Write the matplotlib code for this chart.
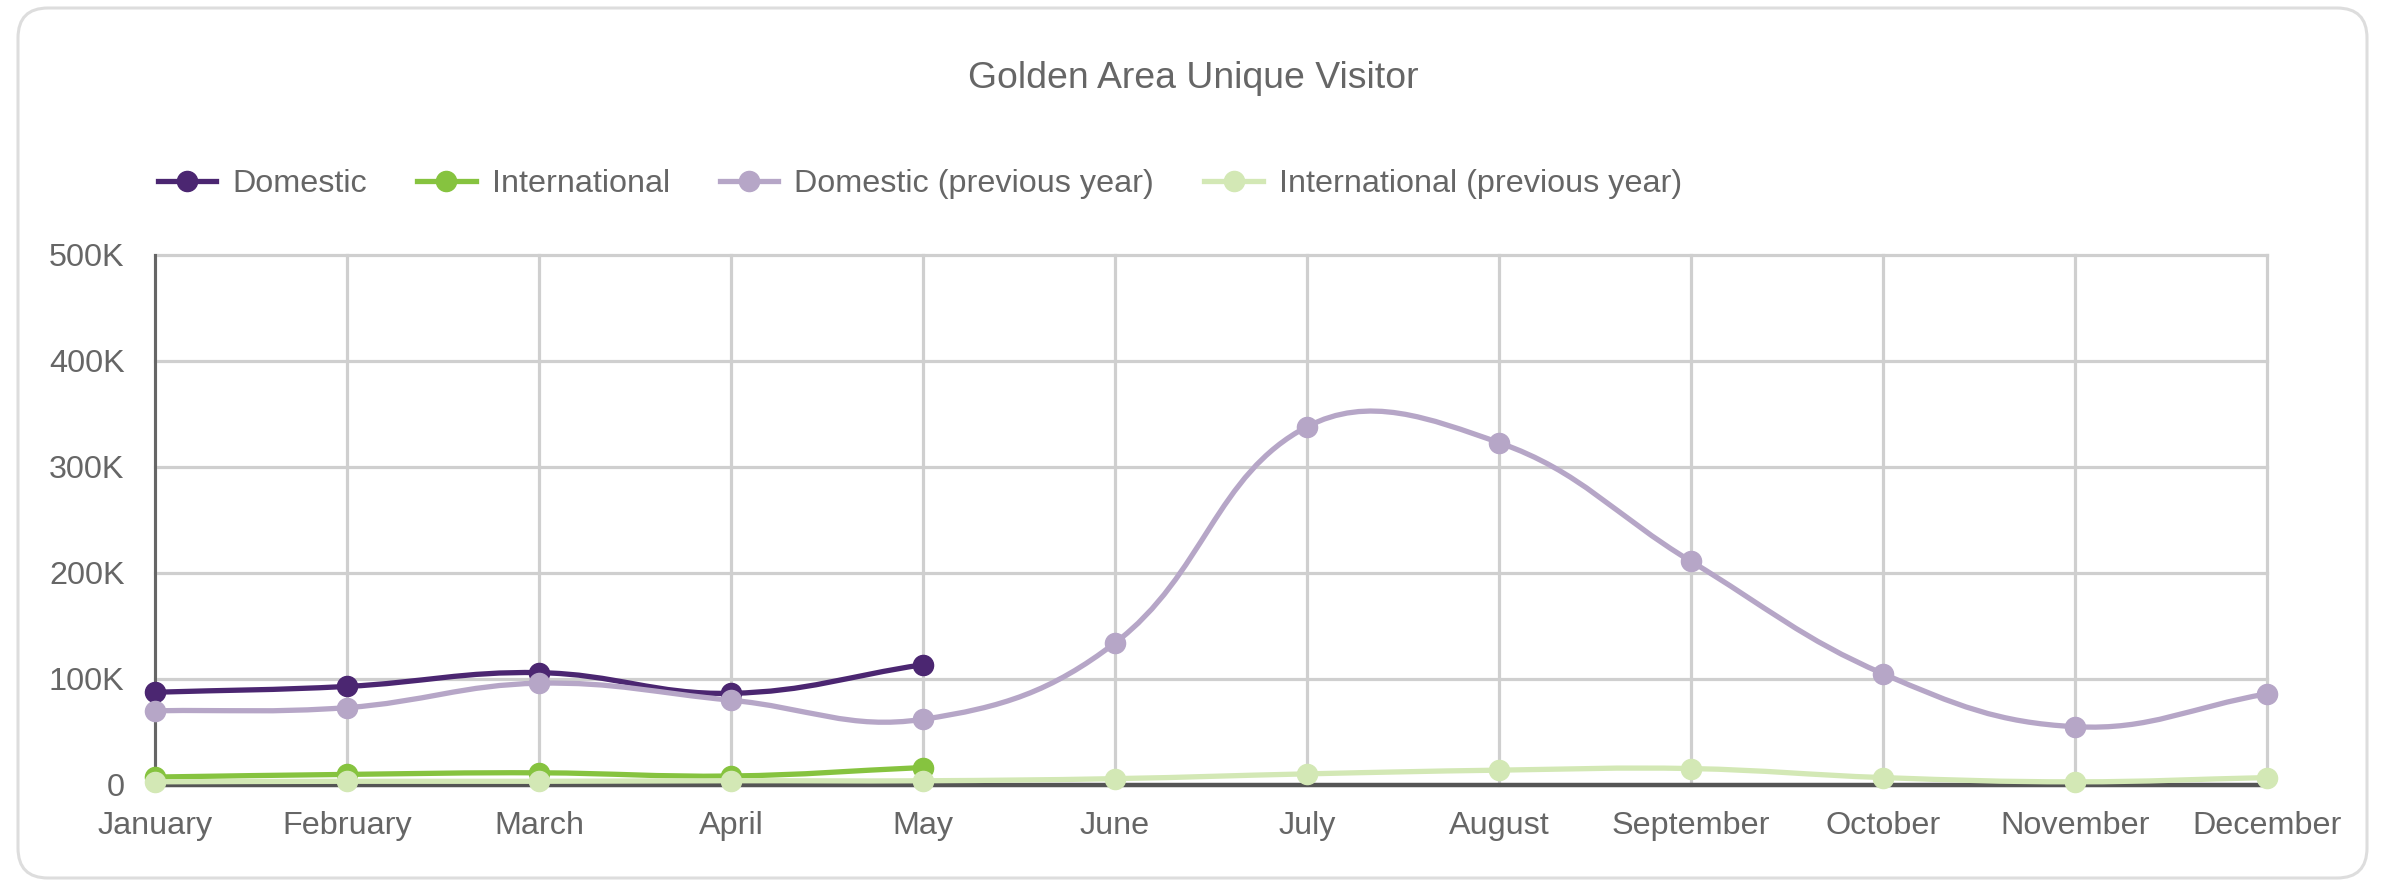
import numpy as np
import matplotlib
matplotlib.use('Agg')
import matplotlib.pyplot as plt
from matplotlib.path import Path
from matplotlib.patches import PathPatch, FancyBboxPatch
from matplotlib.lines import Line2D
from matplotlib.transforms import IdentityTransform

plt.rcParams['font.family'] = ['Liberation Sans', 'DejaVu Sans']

# data
months = ['January', 'February', 'March', 'April', 'May', 'June', 'July',
          'August', 'September', 'October', 'November', 'December']
y_ticks = [0, 100000, 200000, 300000, 400000, 500000]
y_tick_labels = ['0', '100K', '200K', '300K', '400K', '500K']
domestic = [87500, 93000, 106000, 86500, 113500]
international = [7500, 10000, 11500, 8500, 16500]
domestic_prev = [70000, 73000, 96000, 80000, 62000, 134000, 338000, 323000,
                 211000, 105000, 55000, 86000]
international_prev = [3000, 3500, 3500, 4000, 4000, 6000, 10500, 14000,
                      15500, 7000, 3000, 7000]

series = [
    ('Domestic', domestic, '#4b2671'),
    ('International', international, '#86c33f'),
    ('Domestic (previous year)', domestic_prev, '#b6a6c7'),
    ('International (previous year)', international_prev, '#d3e8b5'),
]

text_col = '#666666'
W, H = 2386, 882
fig = plt.figure(figsize=(W / 100, H / 100), dpi=100)

# card background with rounded border, kept behind the axes
card = FancyBboxPatch((18, 4), 2349, 870, boxstyle='round,pad=0,rounding_size=30',
                      transform=IdentityTransform(), facecolor='white',
                      edgecolor='#dddddd', linewidth=2.2, zorder=-1)
fig.patches.append(card)

ax = fig.add_axes([155 / W, 1 - 785 / H, (2267 - 155) / W, (785 - 255) / H])
ax.set_zorder(1)
ax.set_xlim(0, 11)
ax.set_ylim(0, 500000)
ax.set_facecolor('none')


def bezier_path(ax, xs, ys, tension=0.4):
    # chart.js style spline, control points computed in pixel space
    pts = ax.transData.transform(np.column_stack([xs, ys]))
    n = len(pts)
    cp_prev, cp_next = [], []
    for i in range(n):
        prev = pts[i - 1] if i > 0 else pts[i]
        cur = pts[i]
        nxt = pts[i + 1] if i < n - 1 else pts[i]
        d01 = np.hypot(*(cur - prev))
        d12 = np.hypot(*(nxt - cur))
        tot = d01 + d12
        s01 = d01 / tot if tot else 0
        s12 = d12 / tot if tot else 0
        cp_prev.append(cur - tension * s01 * (nxt - prev))
        cp_next.append(cur + tension * s12 * (nxt - prev))
    verts = [pts[0]]
    codes = [Path.MOVETO]
    for i in range(n - 1):
        verts += [cp_next[i], cp_prev[i + 1], pts[i + 1]]
        codes += [Path.CURVE4] * 3
    inv = ax.transData.inverted()
    dv = inv.transform(np.array(verts))
    dv[:, 1] = np.clip(dv[:, 1], 0, 500000)
    dv[:, 0] = np.clip(dv[:, 0], 0, 11)
    return Path(dv, codes)


handles = []
for k, (name, vals, col) in enumerate(series):
    x = np.arange(len(vals))
    p = bezier_path(ax, x, vals)
    ax.add_patch(PathPatch(p, facecolor='none', edgecolor=col, lw=3.8,
                           capstyle='round', joinstyle='round', zorder=3 + k))
    ax.plot(x, vals, 'o', color=col, ms=14.5, zorder=3 + k, clip_on=False)
    handles.append(Line2D([], [], color=col, lw=3.8, marker='o', ms=14.5, label=name))

ax.set_xticks(range(12))
ax.set_xticklabels(months)
ax.set_yticks(y_ticks)
ax.set_yticklabels(y_tick_labels, ha='right')
ax.tick_params(length=0, labelsize=23.3, colors=text_col)
ax.tick_params(axis='y', pad=22)
ax.tick_params(axis='x', pad=19)
ax.grid(True, color='#cfcfcf', lw=2.3)
ax.set_axisbelow(True)
for gl in ax.get_xgridlines() + ax.get_ygridlines():
    gl.set_clip_on(False)
for s in ['top', 'right']:
    ax.spines[s].set_visible(False)
ax.spines['left'].set_color('#666666')
ax.spines['left'].set_linewidth(2.2)
ax.spines['bottom'].set_color('#555555')
ax.spines['bottom'].set_linewidth(3.2)
ax.spines['bottom'].set_zorder(2.5)

fig.text(0.5, 1 - 79 / H, 'Golden Area Unique Visitor', ha='center', va='center',
         fontsize=26.9, color=text_col)

fig.legend(handles=handles, loc='center left', bbox_to_anchor=(158 / W, 1 - 184 / H),
           ncol=4, frameon=False, fontsize=23.3, labelcolor=text_col,
           handlelength=1.8, handletextpad=0.5, columnspacing=1.55,
           borderpad=0, borderaxespad=0)

fig.savefig('out.png', dpi=100)
